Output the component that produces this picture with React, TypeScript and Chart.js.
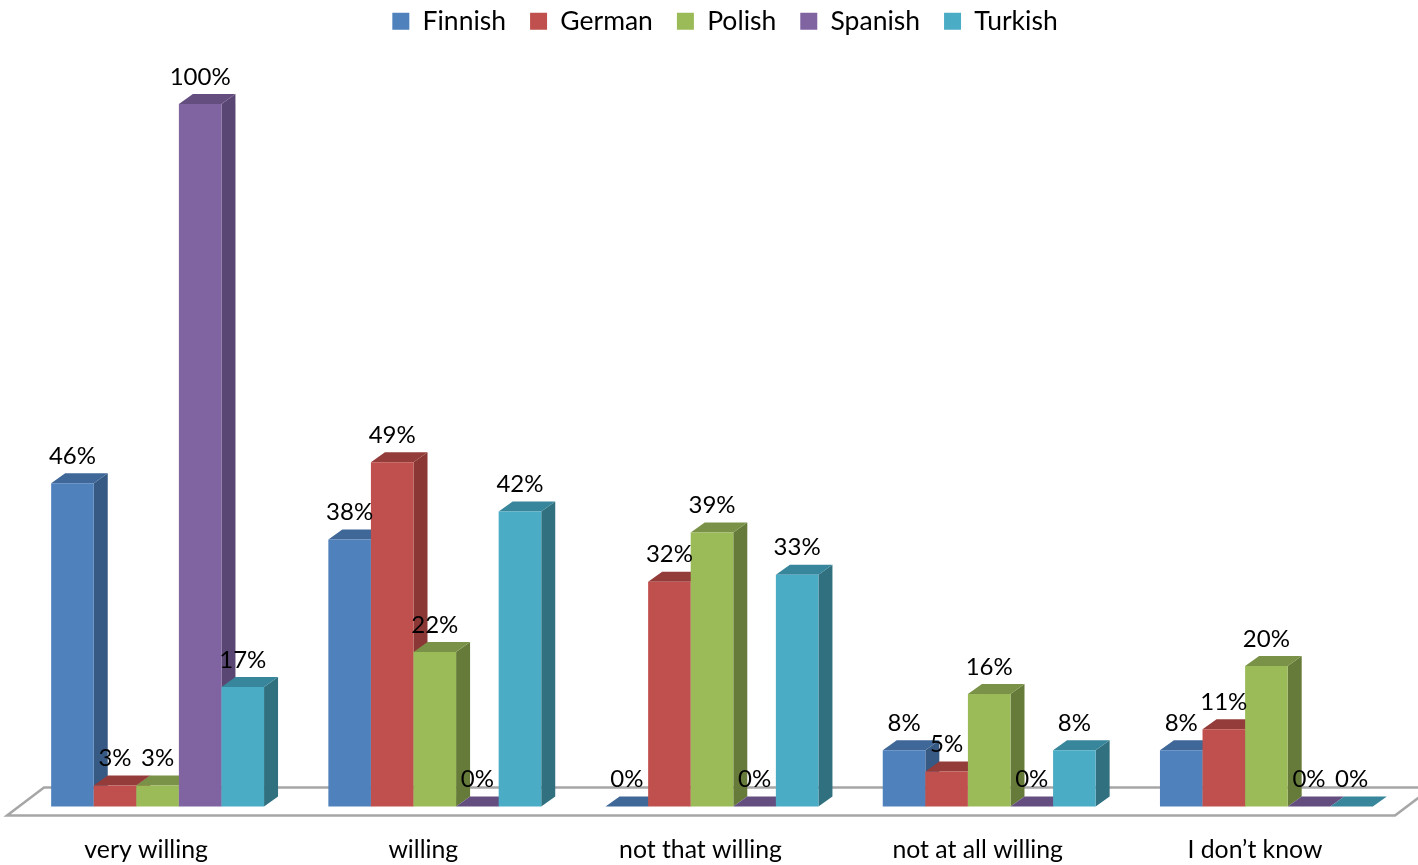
import React, { useEffect, useRef } from "react";
import { Chart, registerables } from "chart.js";

Chart.register(...registerables);

const categories = ["very willing", "willing", "not that willing", "not at all willing", "I don’t know"];
const seriesNames = ["Finnish", "German", "Polish", "Spanish", "Turkish"];
const finnish = [46, 38, 0, 8, 8];
const german = [3, 49, 32, 5, 11];
const polish = [3, 22, 39, 16, 20];
const spanish = [100, 0, 0, 0, 0];
const turkish = [17, 42, 33, 8, 0];
const seriesValues = [finnish, german, polish, spanish, turkish];
const frontColors = ["#4F81BD", "#C0504D", "#9BBB59", "#8064A2", "#4BACC6"];
const topColors = ["#3F6797", "#943C3A", "#7A9247", "#644E80", "#37869B"];
const sideColors = ["#375A85", "#8A3735", "#667B3A", "#5A4672", "#31707F"];
const FONT = "Lato, Carlito, sans-serif";
const DEPTH_X = 14;
const DEPTH_Y = 10;

const polygon = (ctx: CanvasRenderingContext2D, pts: number[][], fill: string) => {
  ctx.beginPath();
  pts.forEach((p, i) => (i ? ctx.lineTo(p[0], p[1]) : ctx.moveTo(p[0], p[1])));
  ctx.closePath();
  ctx.fillStyle = fill;
  ctx.fill();
};

const bar3d = {
  id: "bar3d",
  beforeLayout(chart: any) {
    const legend = chart.legend;
    if (!legend._patched) {
      const fit = legend.fit;
      legend.fit = function () {
        fit.call(this);
        this.height = 104;
      };
      legend._patched = true;
    }
  },
  afterLayout(chart: any) {
    const l = chart.legend;
    l.left = 32;
    l.right = 1418;
    l.top = -16;
    l.bottom = l.top + 104;
  },
  beforeDatasetsDraw(chart: any) {
    const { ctx, chartArea, scales } = chart;
    const base = scales.y.getPixelForValue(0);
    const front = base + 9;
    const back = base - 19;
    ctx.save();
    ctx.strokeStyle = "#A6A6A6";
    ctx.lineWidth = 2.5;
    ctx.beginPath();
    ctx.moveTo(1418 + 20, back);
    ctx.lineTo(chartArea.left + 25, back);
    ctx.lineTo(chartArea.left - 12, front);
    ctx.lineTo(chartArea.right - 10, front);
    ctx.lineTo(chartArea.right + 27, back);
    ctx.stroke();
    ctx.restore();
    // Paint the series front to back, each one's depth faces first.
    seriesNames.forEach((_, i) => {
      const meta = chart.getDatasetMeta(i);
      meta.data.forEach((bar: any) => {
        const l = bar.x - bar.width / 2;
        const r = bar.x + bar.width / 2;
        const t = bar.y;
        const b = bar.base;
        polygon(ctx, [[r, t], [r + DEPTH_X, t - DEPTH_Y], [r + DEPTH_X, b - DEPTH_Y], [r, b]], sideColors[i]);
        polygon(ctx, [[l, t], [l + DEPTH_X, t - DEPTH_Y], [r + DEPTH_X, t - DEPTH_Y], [r, t]], topColors[i]);
      });
      meta.controller.draw();
    });
  },
  beforeDatasetDraw() {
    return false;
  },
  afterDatasetsDraw(chart: any) {
    const { ctx } = chart;
    ctx.save();
    ctx.font = `24px ${FONT}`;
    ctx.fillStyle = "#000";
    ctx.textAlign = "center";
    ctx.textBaseline = "middle";
    seriesValues.forEach((vals, i) => {
      const meta = chart.getDatasetMeta(i);
      vals.forEach((v, j) => {
        const bar = meta.data[j] as any;
        ctx.fillText(`${v}%`, bar.x, bar.y - 27);
      });
    });
    ctx.restore();
  },
};

export default function App() {
  const ref = useRef<HTMLCanvasElement | null>(null);
  useEffect(() => {
    document.body.style.margin = "0";
    const chart = new Chart(ref.current as HTMLCanvasElement, {
      type: "bar",
      data: {
        labels: categories,
        datasets: seriesNames.map((name, i) => ({
          label: name,
          data: seriesValues[i],
          backgroundColor: frontColors[i],
          borderWidth: 0,
          categoryPercentage: 0.768,
          barPercentage: 1,
        })),
      },
      options: {
        responsive: false,
        animation: false,
        layout: { padding: { left: 19, right: 13, top: 0, bottom: 0 } },
        plugins: {
          tooltip: { enabled: false },
          legend: {
            position: "top",
            labels: {
              boxWidth: 17,
              boxHeight: 17,
              padding: 24,
              color: "#000",
              font: { family: FONT, size: 26.5 },
            },
          },
        },
        scales: {
          y: { display: false, min: 0, max: 100 },
          x: {
            afterFit: (s: any) => {
              s.height = 58.5;
            },
            grid: { display: false, drawTicks: false },
            border: { display: false },
            ticks: {
              labelOffset: -11.5,
              padding: 29,
              maxRotation: 0,
              autoSkip: false,
              color: "#000",
              font: { family: FONT, size: 24.8 },
            },
          },
        },
      },
      plugins: [bar3d as any],
    });
    return () => chart.destroy();
  }, []);
  return <canvas ref={ref} width={1418} height={865} style={{ display: "block" }} />;
}
